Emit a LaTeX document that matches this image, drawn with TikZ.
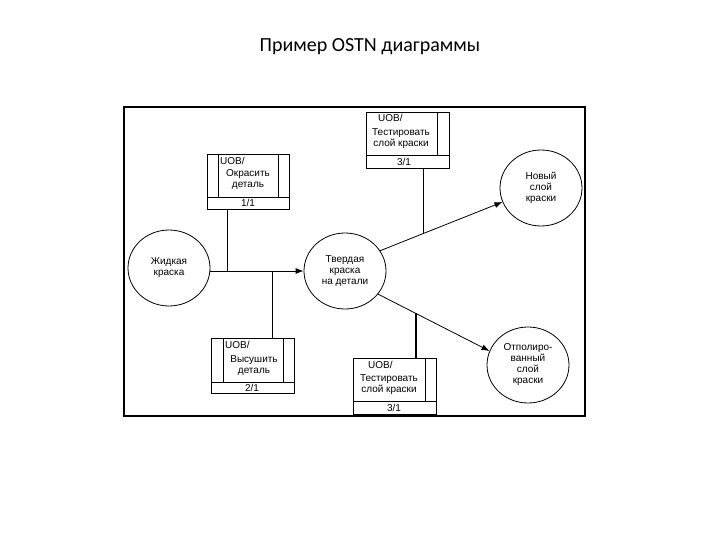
\documentclass[tikz,border=0pt]{standalone}
\usepackage{fontspec}
\setmainfont{Liberation Sans}
\newfontfamily\titlefont{Carlito}
\usetikzlibrary{arrows.meta,shapes.geometric}
\begin{document}
\begin{tikzpicture}[x=1pt,y=-1pt,
  st/.style={ellipse,draw,line width=0.8pt,minimum width=82pt,minimum height=76pt,inner sep=0pt,align=center,font=\fontsize{10}{11}\selectfont},
  tx/.style={align=center,font=\fontsize{10}{11}\selectfont,inner sep=0pt},
  ln/.style={line width=0.8pt},
  ar/.style={line width=0.8pt,-{Latex[length=8pt,width=6pt]}}]
\useasboundingbox (0,0) rectangle (720,540);
\node[font=\titlefont\fontsize{20}{22}\selectfont] (title) at (370,47) {Пример OSTN диаграммы};
\draw[line width=1.6pt] (124,107) rectangle (585,416);
% states
\node[st] (zh) at (169,268) {Жидкая\\краска};
\node[st] (tv) at (345,271) {Твердая\\краска\\на детали};
\node[st] (nv) at (541,188) {Новый\\слой\\краски};
\node[st] (ot) at (528,365) {Отполиро-\\ванный\\слой\\краски};
% box 1
\draw[ln] (207,154) rectangle (289,209) (207,197) -- (289,197) (218,154) -- (218,197) (278,154) -- (278,197);
\node[tx,anchor=north west] (b1) at (220,157) {UOB/};
\node[tx] (b1t) at (248,180) {Окрасить\\деталь};
\node[tx] (b1n) at (248,203) {1/1};
% box top
\draw[ln] (366,112) rectangle (449,168) (366,155) -- (449,155) (437,112) -- (437,155);
\node[tx,anchor=north west] (b3) at (378,114) {UOB/};
\node[tx] (b3t) at (401,139) {Тестировать\\слой краски};
\node[tx] (b3n) at (404,162) {3/1};
% box 2
\draw[ln] (211,338) rectangle (294,393) (211,382) -- (294,382) (223,338) -- (223,382) (283,338) -- (283,382);
\node[tx,anchor=north west] (b2) at (225,341) {UOB/};
\node[tx] (b2t) at (254,366) {Высушить\\деталь};
\node[tx] (b2n) at (252,388) {2/1};
% box bottom
\draw[ln] (353,358) rectangle (436,414) (353,401) -- (436,401) (425,358) -- (425,401);
\node[tx,anchor=north west] (b4) at (368,361) {UOB/};
\node[tx] (b4t) at (389,385) {Тестировать\\слой краски};
\node[tx] (b4n) at (394,408) {3/1};
% connectors
\coordinate (j1) at (227,271);
\coordinate (j2) at (272,271);
\draw[ar] (zh.east |- 0,271) -- (tv.west |- 0,271);
\draw[ln] (227,209) -- (j1);
\draw[ln] (272,338) -- (j2);
\draw[ar] (tv.30) -- coordinate[pos=0.35] (j3) (nv.200);
\draw[ar] (tv.-35) -- coordinate[pos=0.34] (j4) (ot.160);
\draw[ln] (j3 |- 0,168) -- (j3);
\draw[line width=1.6pt] (j4 |- 0,358) -- (j4);
\end{tikzpicture}
\end{document}
